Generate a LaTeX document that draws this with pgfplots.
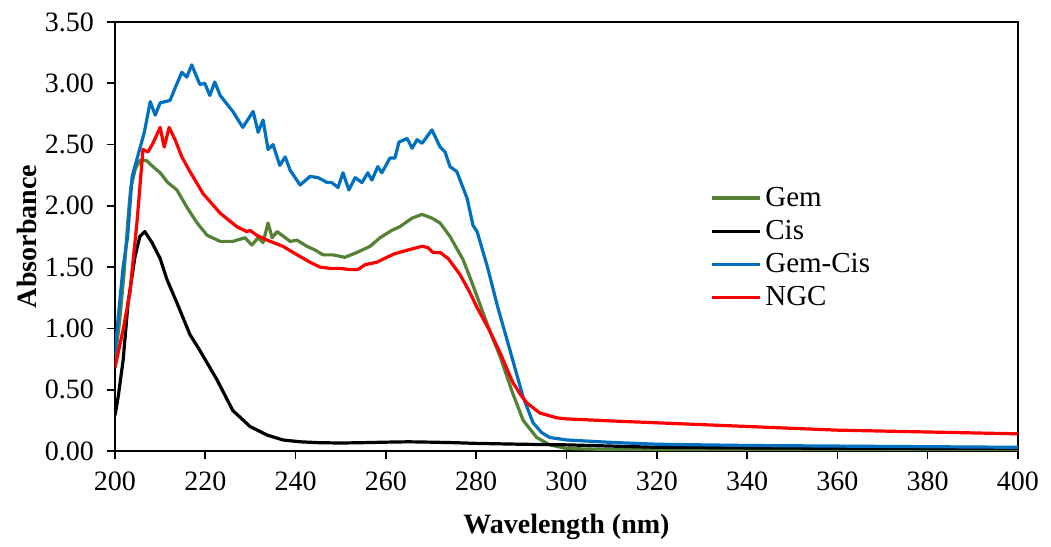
\documentclass[border=0pt]{standalone}
\usepackage{fontspec}
\setmainfont{Liberation Serif}
\usepackage{pgfplots}
\pgfplotsset{compat=1.18}
\definecolor{gemgreen}{RGB}{84,130,53}
\definecolor{gcblue}{RGB}{0,112,192}

\begin{document}
\begin{tikzpicture}
\begin{axis}[
    scale only axis,
    width=451.5pt, height=214.5pt,
    xmin=200, xmax=400, ymin=0, ymax=3.5,
    xtick={200,220,...,400},
    ytick={0,0.5,...,3.5},
    yticklabel style={/pgf/number format/fixed, /pgf/number format/fixed zerofill,
        /pgf/number format/precision=2, xshift=-3pt},
    /pgf/number format/assume math mode=true,
    tick label style={font=\fontsize{14}{16}\selectfont},
    xticklabel style={yshift=-3pt},
    tick align=outside, tick pos=left,
    major tick length=4pt,
    axis line style={line width=1pt},
    every tick/.style={black, line width=0.8pt},
    xlabel={\textbf{Wavelength (nm)}},
    ylabel={\textbf{Absorbance}},
    label style={font=\fontsize{14}{16}\selectfont},
    xlabel style={at={(axis description cs:0.5,0)}, anchor=center, yshift=-38pt},
    ylabel style={at={(axis description cs:0,0.5)}, anchor=center, yshift=44pt},
    legend style={at={(0.652,0.635)}, anchor=north west, draw=none, fill=none,
        font=\fontsize{14.5}{16}\selectfont, row sep=1.5pt,
        /tikz/every even column/.append style={column sep=0pt}},
    legend cell align=left,
    legend image code/.code={\draw[#1, line width=1.6pt] (0pt,0pt) -- (24pt,0pt);},
    every axis plot/.append style={line width=1.6pt, line join=round},
]

\addplot[color=gemgreen] coordinates {
(200,0.75)(201,1.05)(202,1.45)(203,1.95)(203.5,2.15)(204.5,2.30)(205.5,2.37)(207,2.37)
(208.4,2.32)(210,2.27)(211.7,2.19)(213.7,2.13)(215.9,1.99)(218.2,1.86)(220.4,1.76)
(223.3,1.71)(226.1,1.71)(228.8,1.74)(230.3,1.68)(231.7,1.74)(232.8,1.70)(233.9,1.86)
(234.8,1.74)(235.9,1.79)(238.8,1.71)(240.3,1.72)(242.5,1.67)(244.3,1.64)(246.1,1.60)
(248.3,1.60)(250.9,1.58)(253.6,1.62)(256.5,1.67)(258.7,1.74)(261.3,1.80)(263.1,1.83)
(265.8,1.90)(268,1.93)(270.2,1.90)(272,1.86)(274.2,1.75)(277.1,1.56)(279,1.38)
(281.3,1.15)(283,0.98)(285.3,0.77)(288.1,0.47)(290.4,0.25)(293.4,0.11)(296.3,0.05)
(300,0.02)(310,0.012)(330,0.01)(400,0.01)
};
\addlegendentry{Gem}

\addplot[color=black] coordinates {
(200,0.29)(200.7,0.44)(201.8,0.74)(202.9,1.21)(204.4,1.58)(205.5,1.75)(206.6,1.79)
(208.2,1.70)(210,1.57)(211.5,1.40)(213.7,1.21)(216.6,0.95)(218.8,0.82)(222.6,0.58)
(226.1,0.33)(229.9,0.20)(233.7,0.13)(237.2,0.09)(241,0.075)(245,0.068)(250,0.065)
(255,0.068)(260,0.072)(265,0.075)(270,0.072)(275,0.068)(280,0.062)(290,0.055)
(300,0.05)(310,0.04)(320,0.03)(340,0.025)(360,0.022)(400,0.02)
};
\addlegendentry{Cis}

\addplot[color=gcblue] coordinates {
(200,0.80)(201,1.2)(201.8,1.50)(202.8,1.75)(203.8,2.24)(205,2.40)(206.5,2.60)
(207.8,2.85)(208.9,2.74)(210,2.84)(212.2,2.86)(213.3,2.96)(214.8,3.09)(215.9,3.05)
(217,3.15)(218.8,2.99)(219.9,3.00)(221,2.90)(222.1,3.01)(223.3,2.90)(226.1,2.77)
(228.3,2.64)(230.6,2.77)(231.7,2.60)(232.8,2.70)(233.9,2.46)(235,2.50)(236.5,2.33)
(237.7,2.40)(238.8,2.29)(241,2.17)(243.2,2.24)(245,2.23)(247,2.19)(248,2.19)
(249.4,2.15)(250.5,2.27)(251.8,2.13)(253.2,2.23)(254.7,2.19)(256,2.27)(256.9,2.21)
(258.2,2.32)(259.1,2.27)(260.9,2.39)(262,2.39)(262.9,2.52)(264.7,2.55)(265.8,2.47)
(266.9,2.54)(268,2.51)(270.2,2.62)(272,2.48)(273.1,2.44)(274.2,2.32)(275.7,2.28)
(278,2.06)(279.3,1.84)(280.2,1.79)(282.5,1.50)(284.8,1.17)(286.5,0.95)(288.1,0.74)
(290.4,0.44)(292.6,0.23)(294.5,0.15)(296.3,0.11)(300,0.09)(310,0.07)(320,0.055)
(340,0.045)(360,0.04)(400,0.03)
};
\addlegendentry{Gem-Cis}

\addplot[color=red] coordinates {
(200,0.68)(201.8,0.99)(203.3,1.29)(204.9,1.88)(206.2,2.46)(207.3,2.44)(208.4,2.51)
(210,2.64)(210.9,2.48)(212,2.64)(213.3,2.54)(214.8,2.40)(216.6,2.28)(219.5,2.10)
(223.3,1.94)(227,1.83)(229.2,1.79)(229.9,1.80)(231.4,1.76)(233.7,1.72)(237.2,1.67)
(239.9,1.61)(243.2,1.54)(245.4,1.50)(247.6,1.49)(249.8,1.49)(252,1.48)(253.8,1.48)
(255.4,1.52)(258,1.54)(260.2,1.58)(262,1.61)(264.9,1.64)(268,1.67)(269.3,1.66)
(270.4,1.62)(272,1.62)(273.8,1.57)(276.4,1.44)(278.5,1.30)(280.2,1.17)(283,0.98)
(285.3,0.80)(288.1,0.56)(290,0.45)(291.3,0.39)(294.1,0.31)(297.9,0.27)(300,0.262)
(310,0.245)(320,0.23)(340,0.20)(360,0.17)(380,0.155)(400,0.14)
};
\addlegendentry{NGC}

\end{axis}
\path (current axis.south west) ++(-57.5pt,-45pt) coordinate (bl);
\path (current axis.north east) ++(16.5pt,11pt) coordinate (tr);
\end{tikzpicture}
\end{document}
